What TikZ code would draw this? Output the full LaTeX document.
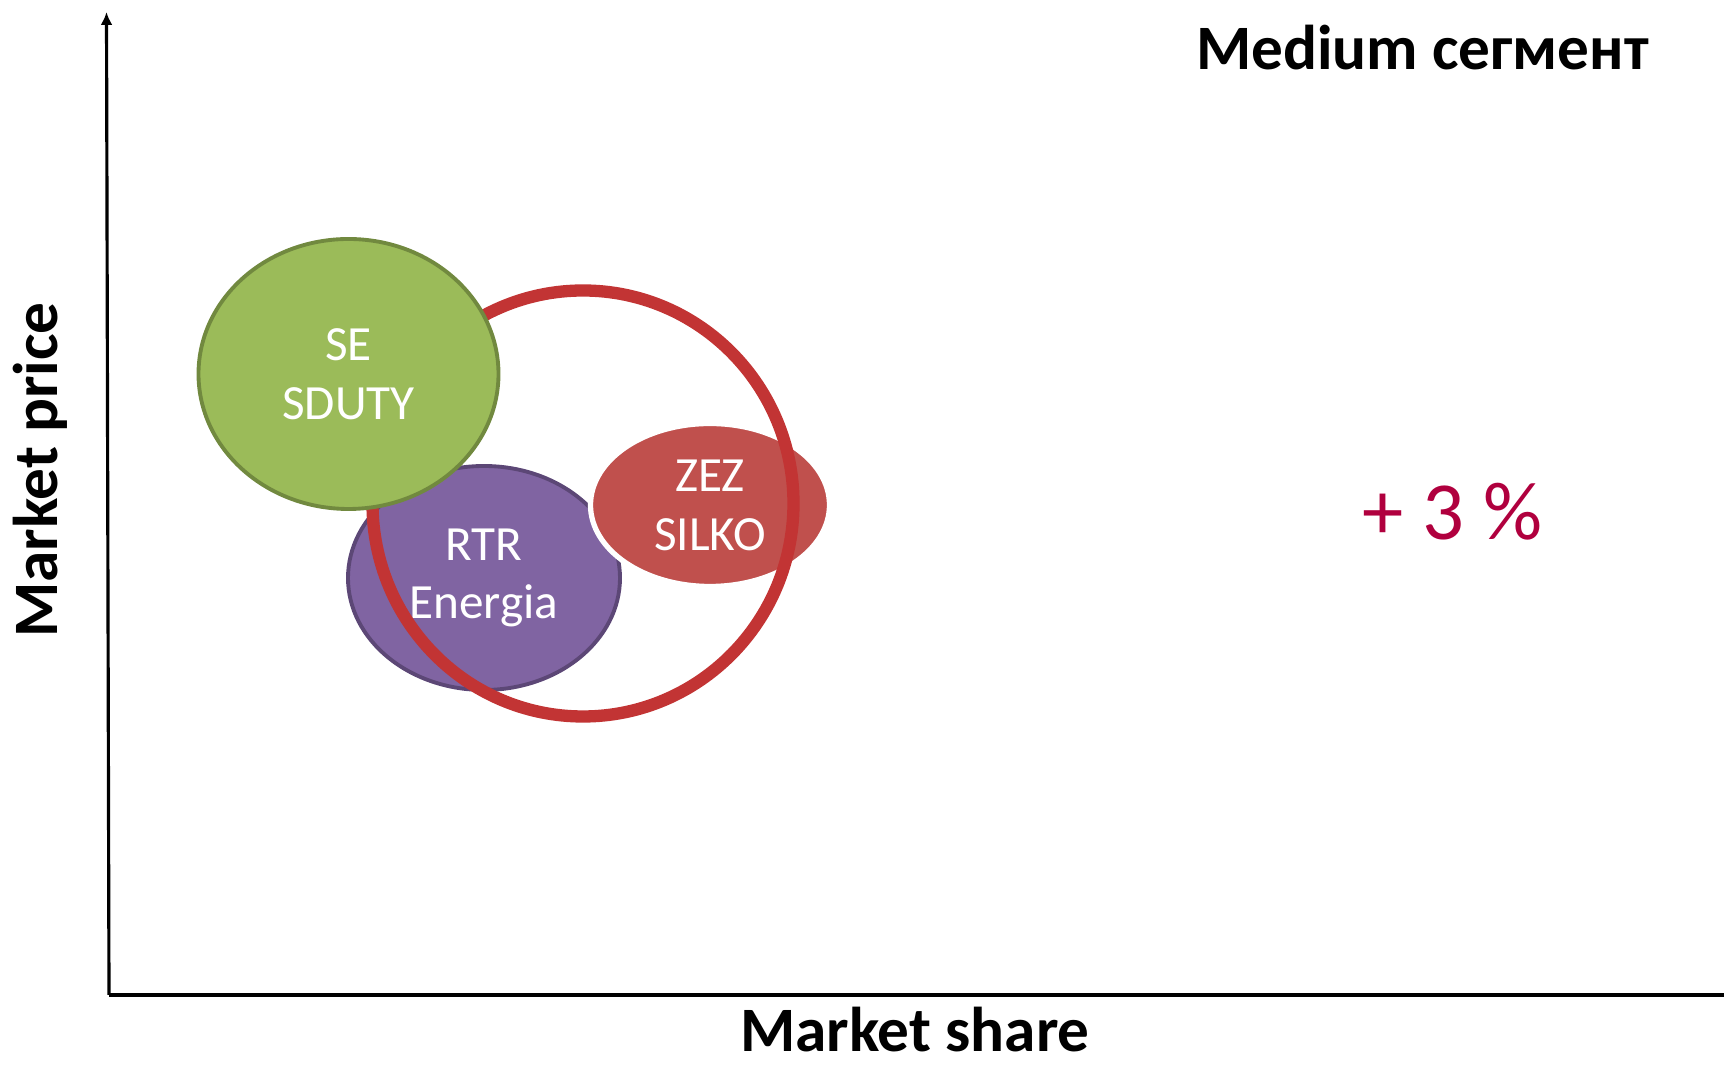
\documentclass[tikz,border=0pt]{standalone}
\usepackage{fontspec}
\setmainfont{Carlito}
\usetikzlibrary{shapes.geometric,arrows.meta}

\definecolor{seFill}{RGB}{155,187,89}
\definecolor{seLine}{RGB}{113,137,63}
\definecolor{rtrFill}{RGB}{128,100,162}
\definecolor{rtrLine}{RGB}{92,71,118}
\definecolor{zezFill}{RGB}{192,80,77}
\definecolor{ringRed}{RGB}{194,52,52}
\definecolor{growth}{RGB}{176,0,62}

\begin{document}
\begin{tikzpicture}[
    blob/.style={ellipse,
        line width=2.2pt,
        text=white,
        align=center,
        font=\fontsize{28}{33.5}\selectfont},
    axis/.style={line width=1.8pt},
    title/.style={inner sep=0pt,
        font=\fontsize{36}{40}\selectfont\bfseries}]

\useasboundingbox (0,0) rectangle (34.48,21.34);

% axes
\coordinate (O) at (2.18,1.44);
\coordinate (Ytop) at (2.13,21.1);
\coordinate (Xend) at (34.48,1.44);
\draw [axis,-{Latex[length=0.26cm,width=0.24cm]}] (O) -- (Ytop);
\draw [axis] (O) -- (Xend);

\node [title] (yl) at (0.81,11.94) [rotate=90] {Market price};
\node [title] (xl) at (18.3,0.74) {Market share};
\node [title] (seg) at (28.45,20.38) {Medium сегмент};

\node [blob,
    draw=rtrLine,
    fill=rtrFill,
    minimum width=5.44cm,
    minimum height=4.48cm] (RTR) at (9.68,9.78) {RTR\\Energia};

\node [blob,
    draw=white,
    line width=3pt,
    fill=zezFill,
    minimum width=4.78cm,
    minimum height=3.26cm] (ZEZ) at (14.2,11.24) {ZEZ\\SILKO};

\node [ellipse,
    draw=ringRed,
    line width=7pt,
    minimum width=8.42cm,
    minimum height=8.52cm] (ring) at (11.66,11.27) {};

\node [blob,
    draw=seLine,
    fill=seFill,
    minimum width=6.0cm,
    minimum height=5.4cm] (SE) at (6.97,13.86) {SE\\SDUTY};

\node [font=\fontsize{47}{52}\selectfont,
    text=growth] (pct) at (29.05,11.1) {+ 3 \%};

\end{tikzpicture}
\end{document}
